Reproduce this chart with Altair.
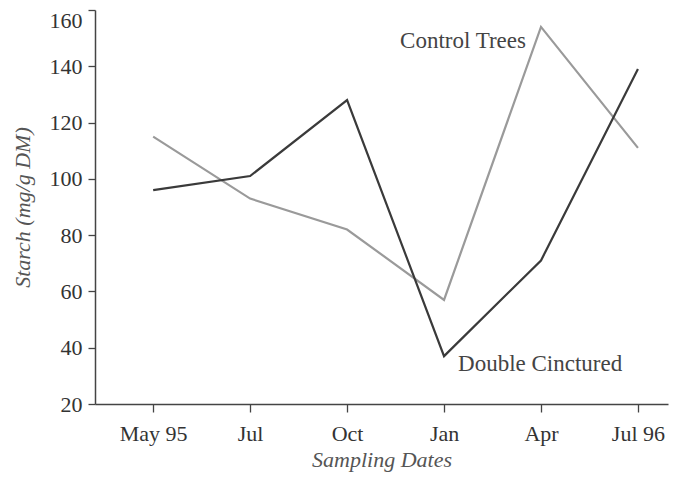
import altair as alt
import pandas as pd

dates = ["May 95", "Jul", "Oct", "Jan", "Apr", "Jul 96"]
control = [115, 93, 82, 57, 154, 111]
double = [96, 101, 128, 37, 71, 139]
series_names = ["Control Trees", "Double Cinctured"]

rows = []
for i, d in enumerate(dates):
    rows.append({"idx": i, "date": d, "series": series_names[0], "starch": control[i]})
    rows.append({"idx": i, "date": d, "series": series_names[1], "starch": double[i]})
df = pd.DataFrame(rows)

labels_df = pd.DataFrame([
    {"idx": 4, "starch": control[4], "label": series_names[0]},
    {"idx": 3, "starch": double[3], "label": series_names[1]},
])

label_expr = "[" + ",".join("'" + d + "'" for d in dates) + "][datum.value]"

FONT = "Liberation Serif"

x = alt.X("idx:Q",
          scale=alt.Scale(domain=[-0.6, 5.31], nice=False, zero=False),
          axis=alt.Axis(values=list(range(len(dates))), labelExpr=label_expr,
                        title="Sampling Dates", grid=False,
                        tickSize=8, labelPadding=11, titlePadding=5))
y = alt.Y("starch:Q",
          scale=alt.Scale(domain=[20, 160], nice=False, zero=False),
          axis=alt.Axis(values=[20, 40, 60, 80, 100, 120, 140, 160],
                        title="Starch (mg/g DM)", grid=False,
                        tickSize=7, labelPadding=6, titlePadding=15,
                        labelBaseline={"condition": {"test": "datum.value == 160", "value": "top"}, "value": "middle"}))

lines = alt.Chart(df).mark_line(strokeWidth=2.2).encode(
    x=x, y=y,
    color=alt.Color("series:N",
                    scale=alt.Scale(domain=series_names, range=["#9a9a9a", "#3a3a3a"]),
                    legend=None),
    detail="series:N",
)

ctrl_label = alt.Chart(labels_df).transform_filter(
    alt.datum.label == series_names[0]
).mark_text(align="right", baseline="middle", dx=-15, dy=14,
            font=FONT, fontSize=23, color="#444").encode(
    x="idx:Q", y="starch:Q", text="label:N")

dbl_label = alt.Chart(labels_df).transform_filter(
    alt.datum.label == series_names[1]
).mark_text(align="left", baseline="middle", dx=14, dy=8,
            font=FONT, fontSize=23, color="#444").encode(
    x="idx:Q", y="starch:Q", text="label:N")

chart = alt.layer(lines, ctrl_label, dbl_label).properties(
    width=573, height=394,
    autosize=alt.AutoSizeParams(type="none"),
    padding={"left": 87, "top": 2, "right": 2, "bottom": 72},
    background="white",
).configure_view(stroke=None).configure_axis(
    labelFont=FONT, titleFont=FONT, labelFontSize=22, titleFontSize=22,
    labelColor="#333", titleColor="#555", titleFontStyle="italic",
    titleFontWeight="normal", domainColor="#444", tickColor="#444",
    domainWidth=1.5, tickWidth=1.3,
)

chart.save("out.html", embed_options={"renderer": "svg", "actions": False})
